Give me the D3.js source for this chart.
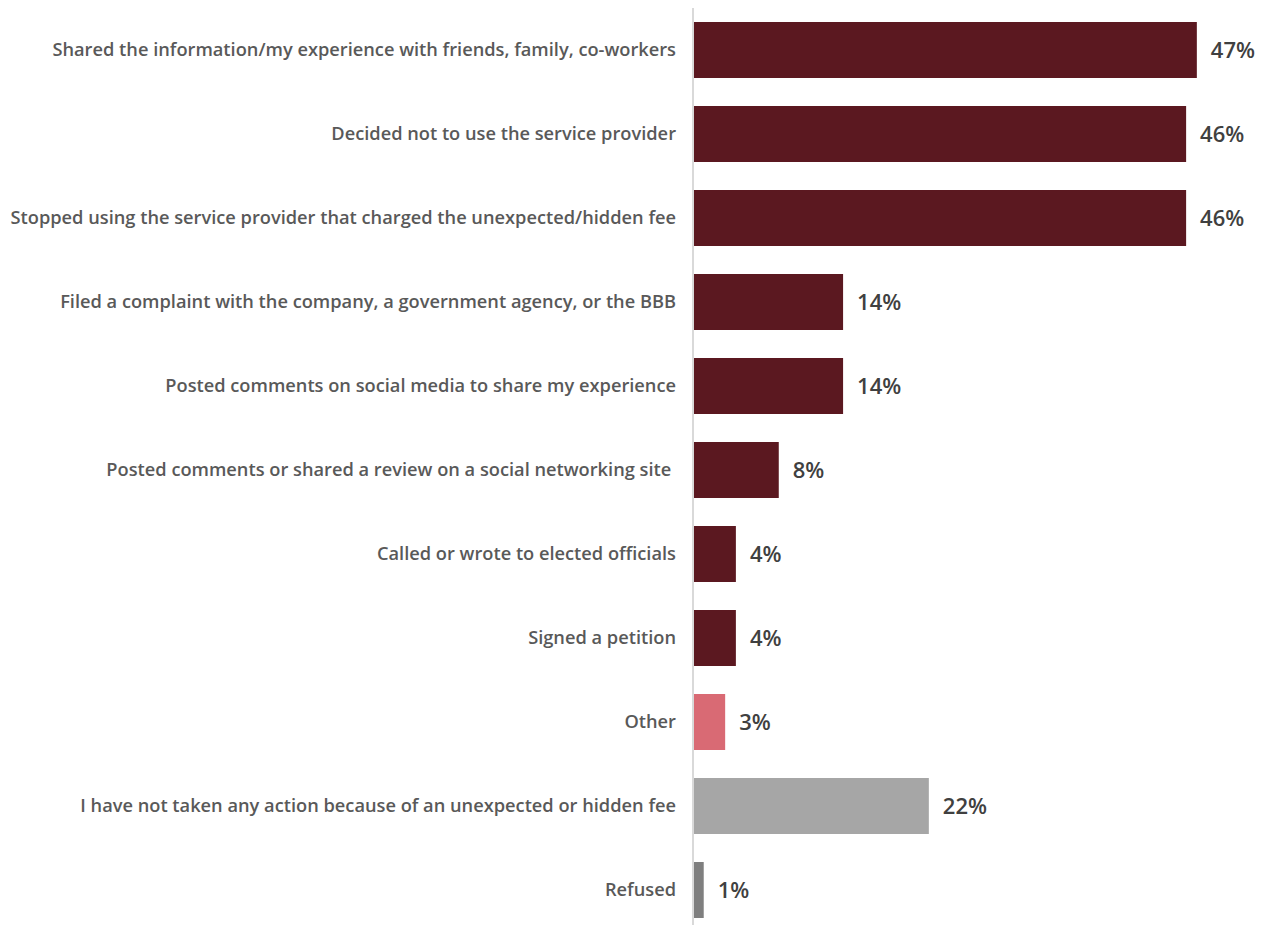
<!DOCTYPE html>
<html>
<head>
<meta charset="utf-8">
<script src="https://cdn.jsdelivr.net/npm/d3@7"></script>
<style>
  html, body { margin: 0; padding: 0; background: #fff; }
  svg { display: block; }
</style>
</head>
<body>
<svg id="chart" width="1272" height="925"></svg>
<script>
// Actions taken after encountering an unexpected or hidden fee
const categories = [
  "Shared the information/my experience with friends, family, co-workers",
  "Decided not to use the service provider",
  "Stopped using the service provider that charged the unexpected/hidden fee",
  "Filed a complaint with the company, a government agency, or the BBB",
  "Posted comments on social media to share my experience",
  "Posted comments or shared a review on a social networking site ",
  "Called or wrote to elected officials",
  "Signed a petition",
  "Other",
  "I have not taken any action because of an unexpected or hidden fee",
  "Refused"
];
const values = [47, 46, 46, 14, 14, 8, 4, 4, 3, 22, 1];
const groups = ["action", "action", "action", "action", "action", "action", "action", "action", "other", "none", "refused"];

const groupColor = d3.scaleOrdinal()
  .domain(["action", "other", "none", "refused"])
  .range(["#5b1820", "#d96a74", "#a6a6a6", "#7f7f7f"]);

const FONT = "'Open Sans', Lato, sans-serif";
const svg = d3.select("#chart");
const baseX = 693;
const labelRoom = 666;   // width available for the longest category label

const x = d3.scaleLinear().domain([0, 100]).range([baseX, baseX + 1072]);
const y = d3.scaleBand()
  .domain(categories)
  .range([8, 932])
  .paddingInner(1 / 3)
  .paddingOuter(1 / 6);

const rows = categories.map((c, i) => ({ label: c, value: values[i], group: groups[i] }));

// bars
svg.append("g")
  .selectAll("rect")
  .data(rows)
  .join("rect")
  .attr("x", x(0))
  .attr("y", d => y(d.label))
  .attr("width", d => x(d.value) - x(0))
  .attr("height", y.bandwidth())
  .attr("fill", d => groupColor(d.group));

// vertical baseline
svg.append("line")
  .attr("x1", baseX).attr("x2", baseX)
  .attr("y1", 8).attr("y2", 925)
  .attr("stroke", "#d9d9d9")
  .attr("stroke-width", 2);

// category labels
const yAxis = d3.axisLeft(y).tickSize(0).tickPadding(17);
const axisG = svg.append("g")
  .attr("transform", `translate(${baseX},0)`)
  .call(yAxis);
axisG.select(".domain").remove();
const labels = axisG.selectAll("text")
  .attr("fill", "#595959")
  .style("font-family", FONT)
  .style("font-weight", "600")
  .style("font-size", "17px")
  .attr("xml:space", "preserve");

// size the labels so the longest one fills the available room
const widest = d3.max(labels.nodes(), n => n.getComputedTextLength());
const fitSize = 17 * labelRoom / widest;
labels.style("font-size", fitSize + "px");

// value labels
svg.append("g")
  .selectAll("text")
  .data(rows)
  .join("text")
  .attr("x", d => x(d.value) + 14)
  .attr("y", d => y(d.label) + y.bandwidth() / 2)
  .attr("dy", "0.36em")
  .attr("fill", "#404040")
  .style("font-family", FONT)
  .style("font-weight", "600")
  .style("font-size", "22px")
  .text(d => d.value + "%");
</script>
</body>
</html>
